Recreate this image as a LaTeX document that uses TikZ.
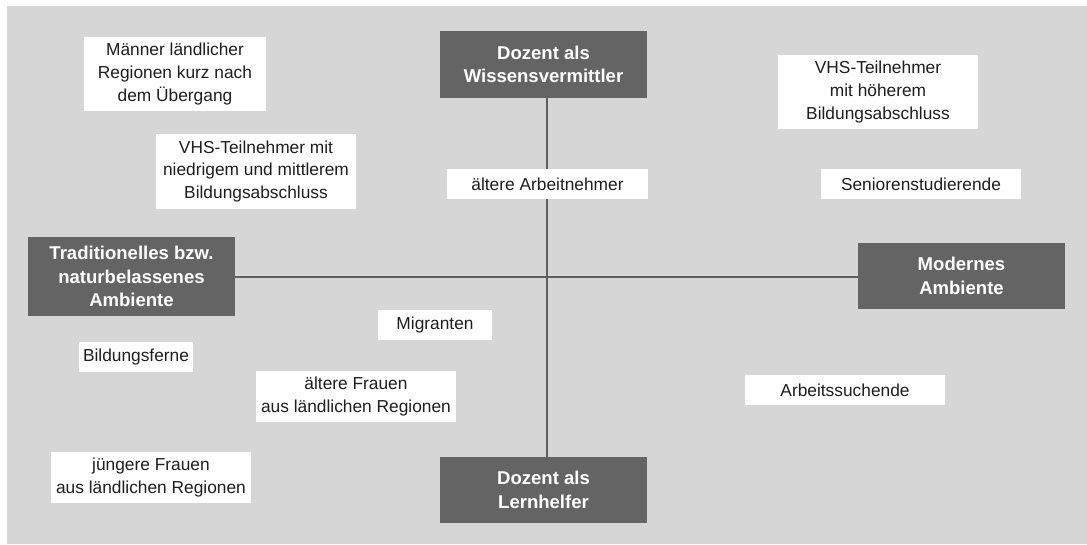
\documentclass[tikz,border=0pt]{standalone}
\usepackage{fontspec}
\setmainfont{Liberation Sans}
\definecolor{panelgrey}{RGB}{214,214,214}
\definecolor{darkbox}{RGB}{100,100,100}
\definecolor{axisline}{RGB}{95,95,95}
\definecolor{txt}{RGB}{30,30,30}
\begin{document}
\begin{tikzpicture}[x=0.75pt,y=-0.75pt,
  wbox/.style={fill=white, draw=none, inner sep=0pt, align=center, text=txt,
    font=\fontsize{13pt}{17pt}\selectfont},
  dbox/.style={fill=darkbox, draw=none, inner sep=0pt, align=center, text=white,
    font=\fontsize{13.9pt}{17.5pt}\selectfont\bfseries,
    minimum width=155.25pt},
  axisstyle/.style={draw=axisline, line width=1.8pt}]
\useasboundingbox[fill=white] (0,0) rectangle (1087,544);
\fill[panelgrey] (7,6) rectangle (1087,544);
% dark boxes
\node[dbox, minimum height=50.25pt] (top) at (543.5,64.5) {Dozent als\\Wissensvermittler};
\node[dbox, minimum height=59.25pt] (left) at (131.5,276.5) {Traditionelles bzw.\\naturbelassenes\\Ambiente};
\node[dbox, minimum height=49.5pt] (right) at (961.5,276) {Modernes\\Ambiente};
\node[dbox, minimum height=49.5pt] (bottom) at (543.5,490) {Dozent als\\Lernhelfer};
% axes
\coordinate (ctr) at (547,277);
\draw[axisstyle] (left.east |- ctr) -- (right.west |- ctr);
\draw[axisstyle] (top.south -| ctr) -- (bottom.north -| ctr);
% white boxes
\node[wbox, minimum width=136.5pt, minimum height=55.5pt] (maenner) at (175,74) {Männer ländlicher\\Regionen kurz nach\\dem Übergang};
\node[wbox, minimum width=150pt, minimum height=56.25pt] (vhslow) at (256,171.5) {VHS-Teilnehmer mit\\niedrigem und mittlerem\\Bildungsabschluss};
\node[wbox, minimum width=150.75pt, minimum height=22.5pt] (aelteran) at (547.5,184) {ältere Arbeitnehmer};
\node[wbox, minimum width=150pt, minimum height=55.5pt] (vhshigh) at (878,92) {VHS-Teilnehmer\\mit höherem\\Bildungsabschluss};
\node[wbox, minimum width=150pt, minimum height=22.5pt] (senioren) at (921,184) {Seniorenstudierende};
\node[wbox, minimum width=85.5pt, minimum height=22.5pt] (migranten) at (435,325) {Migranten};
\node[wbox, minimum width=85.5pt, minimum height=22.5pt] (bildungsferne) at (136,357) {Bildungsferne};
\node[wbox, minimum width=150pt, minimum height=38.25pt] (aelterefrauen) at (356,396.5) {ältere Frauen\\aus ländlichen Regionen};
\node[wbox, minimum width=150pt, minimum height=22.5pt] (arbeit) at (845,390) {Arbeitssuchende};
\node[wbox, minimum width=150pt, minimum height=38.25pt] (juengere) at (151,477.5) {jüngere Frauen\\aus ländlichen Regionen};
\end{tikzpicture}
\end{document}
